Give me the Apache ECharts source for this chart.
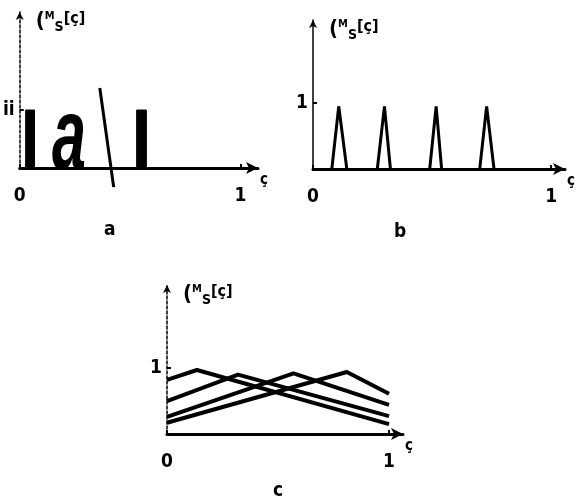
<!DOCTYPE html>
<html><head><meta charset="utf-8">
<script src="https://cdn.jsdelivr.net/npm/echarts@6/dist/echarts.min.js"></script>
<style>html,body{margin:0;padding:0;background:#fff}#c{width:576px;height:498px}</style>
</head><body><div id="c"></div>
<script>
// Panel a: crisp blocks [left, right] of xi, height
const aBlocks = [[0.027, 0.067], [0.53, 0.574]];
const aHeight = 1;
const aSlash = [[0.363, 1.38], [0.426, -0.33]];
// Panel b: narrow triangles
const bLeft = [0.079, 0.27, 0.49, 0.70];
const bPeak = [0.108, 0.30, 0.517, 0.729];
const bRight = [0.142, 0.325, 0.54, 0.76];
const bHeight = 0.95;
// Panel c: wide triangles [value at 0, peak xi, peak value, value at 1]
const cStart = [0.82, 0.50, 0.26, 0.17];
const cPeakX = [0.135, 0.32, 0.57, 0.81];
const cPeakY = [0.97, 0.90, 0.92, 0.94];
const cEnd = [0.15, 0.27, 0.44, 0.61];
const xTicks = [0, 1];
const yTicks = [1];
const captions = ['a', 'b', 'c'];

const FONT = '"DejaVu Sans Condensed", "Liberation Sans", sans-serif';
const chart = echarts.init(document.getElementById('c'), null, {renderer: 'canvas'});

function yName() {
  return '{p|(}{m|M}{s|S}{q|[ç]}';
}
const nameRich = {
  p: {fontFamily: FONT, fontSize: 22, color: '#000', fontWeight: 'bold'},
  m: {fontFamily: FONT, fontSize: 11, color: '#000', fontWeight: 'bold', padding: [0, 0, 10, 0]},
  s: {fontFamily: FONT, fontSize: 14, color: '#000', fontWeight: 'bold', padding: [12, 0, 0, 0]},
  q: {fontFamily: FONT, fontSize: 16, color: '#000', fontWeight: 'bold', padding: [0, 0, 5, 0]}
};

function xAxisCfg(gi, max) {
  return {
    type: 'value', gridIndex: gi, min: 0, max: max,
    axisLine: {show: true, symbol: ['none', 'arrow'], symbolSize: [9, 12], lineStyle: {color: '#000', width: 3}},
    axisTick: {show: true, customValues: xTicks, inside: true, length: 4, lineStyle: {color: '#000', width: 2}},
    axisLabel: {customValues: xTicks, color: '#000', fontFamily: FONT, fontSize: 19, fontWeight: 'bold', margin: 19},
    splitLine: {show: false},
    name: 'ç', nameLocation: 'end', nameGap: 2,
    nameTextStyle: {color: '#000', fontFamily: FONT, fontSize: 15, fontWeight: 'bold', verticalAlign: 'top', padding: [5, 0, 0, 0]}
  };
}
function yAxisCfg(gi, max, dotted, lab) {
  return {
    type: 'value', gridIndex: gi, min: 0, max: max,
    axisLine: {show: true, symbol: ['none', 'arrow'], symbolSize: [6, 8], lineStyle: {color: '#000', width: 1.5, type: dotted ? [3, 2] : 'solid'}},
    axisTick: {show: true, customValues: yTicks, inside: true, length: 4, lineStyle: {color: '#000', width: 2}},
    axisLabel: {customValues: yTicks, formatter: () => lab, color: '#000', fontFamily: FONT, fontSize: 19, fontWeight: 'bold', margin: 5},
    splitLine: {show: false},
    name: yName(), nameLocation: 'end', nameGap: -22,
    nameTextStyle: {align: 'left', padding: [0, 0, 0, 16], rich: nameRich}
  };
}

const series = [];
aBlocks.forEach(b => {
  series.push({type: 'line', xAxisIndex: 0, yAxisIndex: 0, symbol: 'none',
    data: [[b[0], 0], [b[0], aHeight], [b[1], aHeight], [b[1], 0]],
    lineStyle: {color: '#000', width: 1}, areaStyle: {color: '#000', opacity: 1}});
});
series.push({type: 'line', xAxisIndex: 0, yAxisIndex: 0, symbol: 'none', clip: false,
  data: aSlash, lineStyle: {color: '#000', width: 3}});
bPeak.forEach((p, i) => {
  series.push({type: 'line', xAxisIndex: 1, yAxisIndex: 1, symbol: 'none',
    data: [[bLeft[i], 0], [p, bHeight], [bRight[i], 0]],
    lineStyle: {color: '#000', width: 3}});
});
cPeakX.forEach((p, i) => {
  series.push({type: 'line', xAxisIndex: 2, yAxisIndex: 2, symbol: 'none',
    data: [[0, cStart[i]], [p, cPeakY[i]], [1, cEnd[i]]],
    lineStyle: {color: '#000', width: 4}});
});

chart.setOption({
  animation: false,
  backgroundColor: '#fff',
  grid: [
    {left: 17, top: 12, width: 241, height: 156},
    {left: 313, top: 20, width: 254, height: 149},
    {left: 167, top: 285, width: 236, height: 149}
  ],
  xAxis: [xAxisCfg(0, 1.08), xAxisCfg(1, 1.058), xAxisCfg(2, 1.063)],
  yAxis: [yAxisCfg(0, 2.69, true, 'ii'), yAxisCfg(1, 2.258, false, '1'), yAxisCfg(2, 2.258, true, '1')],
  series: series,
  graphic: [
    {type: 'text', left: 52, top: 90, scaleX: 0.6, style: {text: 'a', fontFamily: '"Liberation Sans", sans-serif', fontSize: 102, fontWeight: 'bold', fontStyle: 'italic', fill: '#000'}},
    {type: 'text', left: 104, top: 221, style: {text: captions[0], fontFamily: FONT, fontSize: 19, fontWeight: 'bold', fill: '#000'}},
    {type: 'text', left: 394, top: 223, style: {text: captions[1], fontFamily: FONT, fontSize: 19, fontWeight: 'bold', fill: '#000'}},
    {type: 'text', left: 273, top: 482, style: {text: captions[2], fontFamily: FONT, fontSize: 19, fontWeight: 'bold', fill: '#000'}}
  ]
});
</script></body></html>
